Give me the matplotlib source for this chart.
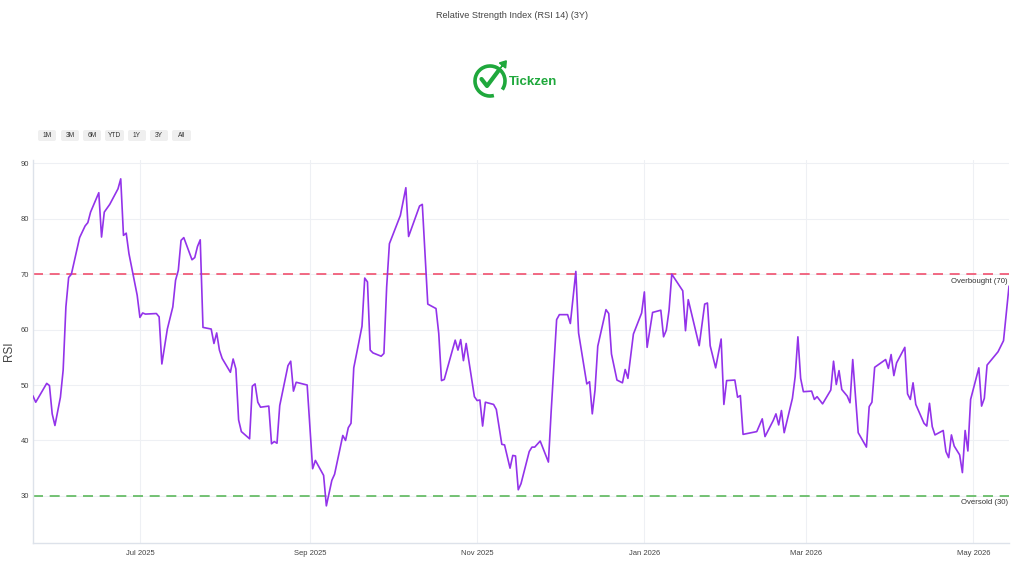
import matplotlib
matplotlib.use("Agg")
import matplotlib.pyplot as plt
import matplotlib.dates as mdates
from matplotlib.patches import Arc, FancyBboxPatch, FancyArrow
from matplotlib.transforms import offset_copy
import pandas as pd

plt.rcParams["font.family"] = ["Liberation Sans", "DejaVu Sans"]

TITLE = "Relative Strength Index (RSI 14) (3Y)"
range_buttons = ["1M", "3M", "6M", "YTD", "1Y", "3Y", "All"]
overbought = 70
oversold = 30

dates = [
    "2025-05-23", "2025-05-24", "2025-05-28", "2025-05-29", "2025-05-30", "2025-05-31",
    "2025-06-02", "2025-06-03", "2025-06-04", "2025-06-05", "2025-06-06", "2025-06-09",
    "2025-06-11", "2025-06-12", "2025-06-13", "2025-06-16", "2025-06-17", "2025-06-18",
    "2025-06-20", "2025-06-23", "2025-06-24", "2025-06-25", "2025-06-26", "2025-06-27",
    "2025-06-30", "2025-07-01", "2025-07-02", "2025-07-03", "2025-07-07", "2025-07-08",
    "2025-07-09", "2025-07-11", "2025-07-13", "2025-07-14", "2025-07-15", "2025-07-16",
    "2025-07-17", "2025-07-20", "2025-07-21", "2025-07-22", "2025-07-23", "2025-07-24",
    "2025-07-27", "2025-07-28", "2025-07-29", "2025-07-30", "2025-07-31", "2025-08-03",
    "2025-08-04", "2025-08-05", "2025-08-06", "2025-08-07", "2025-08-10", "2025-08-11",
    "2025-08-12", "2025-08-13", "2025-08-14", "2025-08-17", "2025-08-18", "2025-08-19",
    "2025-08-20", "2025-08-21", "2025-08-24", "2025-08-25", "2025-08-26", "2025-08-27",
    "2025-08-31", "2025-09-02", "2025-09-03", "2025-09-06", "2025-09-07", "2025-09-09",
    "2025-09-10", "2025-09-13", "2025-09-14", "2025-09-15", "2025-09-16", "2025-09-17",
    "2025-09-20", "2025-09-21", "2025-09-22", "2025-09-23", "2025-09-24", "2025-09-27",
    "2025-09-28", "2025-09-29", "2025-09-30", "2025-10-04", "2025-10-06", "2025-10-07",
    "2025-10-11", "2025-10-12", "2025-10-14", "2025-10-17", "2025-10-18", "2025-10-19",
    "2025-10-20", "2025-10-24", "2025-10-25", "2025-10-26", "2025-10-27", "2025-10-28",
    "2025-10-31", "2025-11-01", "2025-11-02", "2025-11-03", "2025-11-04", "2025-11-07",
    "2025-11-08", "2025-11-10", "2025-11-11", "2025-11-13", "2025-11-14", "2025-11-15",
    "2025-11-16", "2025-11-17", "2025-11-20", "2025-11-21", "2025-11-22", "2025-11-24",
    "2025-11-27", "2025-11-28", "2025-11-30", "2025-12-01", "2025-12-04", "2025-12-05",
    "2025-12-07", "2025-12-08", "2025-12-11", "2025-12-12", "2025-12-13", "2025-12-14",
    "2025-12-15", "2025-12-18", "2025-12-19", "2025-12-20", "2025-12-22", "2025-12-24",
    "2025-12-25", "2025-12-26", "2025-12-28", "2025-12-31", "2026-01-01", "2026-01-02",
    "2026-01-04", "2026-01-07", "2026-01-08", "2026-01-09", "2026-01-10", "2026-01-11",
    "2026-01-15", "2026-01-16", "2026-01-17", "2026-01-21", "2026-01-23", "2026-01-24",
    "2026-01-25", "2026-01-27", "2026-01-29", "2026-01-30", "2026-01-31", "2026-02-03",
    "2026-02-04", "2026-02-05", "2026-02-06", "2026-02-11", "2026-02-13", "2026-02-14",
    "2026-02-17", "2026-02-18", "2026-02-19", "2026-02-20", "2026-02-21", "2026-02-24",
    "2026-02-25", "2026-02-26", "2026-02-27", "2026-02-28", "2026-03-03", "2026-03-04",
    "2026-03-05", "2026-03-07", "2026-03-10", "2026-03-11", "2026-03-12", "2026-03-13",
    "2026-03-14", "2026-03-16", "2026-03-17", "2026-03-18", "2026-03-20", "2026-03-23",
    "2026-03-24", "2026-03-25", "2026-03-26", "2026-03-30", "2026-03-31", "2026-04-01",
    "2026-04-02", "2026-04-03", "2026-04-06", "2026-04-07", "2026-04-08", "2026-04-09",
    "2026-04-10", "2026-04-13", "2026-04-14", "2026-04-15", "2026-04-16", "2026-04-17",
    "2026-04-20", "2026-04-21", "2026-04-22", "2026-04-23", "2026-04-24", "2026-04-26",
    "2026-04-27", "2026-04-28", "2026-04-29", "2026-04-30", "2026-05-03", "2026-05-04",
    "2026-05-05", "2026-05-06", "2026-05-10", "2026-05-12", "2026-05-14",
]

rsi = [
    48.0, 46.9, 50.3, 49.9, 44.8, 42.7,
    47.8, 52.7, 64.1, 69.4, 70.0, 76.6,
    78.7, 79.3, 81.2, 84.7, 76.7, 81.2,
    82.6, 85.4, 87.2, 77.0, 77.4, 73.7,
    66.2, 62.2, 63.0, 62.8, 62.9, 62.3,
    53.8, 60.1, 64.1, 68.9, 70.7, 76.1,
    76.6, 72.6, 73.0, 75.0, 76.2, 60.4,
    60.1, 57.5, 59.4, 56.3, 54.8, 52.3,
    54.7, 52.9, 43.7, 41.6, 40.3, 49.8,
    50.2, 46.9, 46.0, 46.2, 39.4, 39.8,
    39.5, 46.3, 53.5, 54.3, 48.9, 50.5,
    50.0, 34.9, 36.4, 33.7, 28.2, 32.8,
    33.9, 40.9, 40.0, 42.3, 43.1, 53.1,
    60.6, 69.3, 68.6, 56.3, 55.8, 55.2,
    55.7, 67.7, 75.5, 80.6, 85.6, 76.8,
    82.3, 82.6, 64.6, 63.8, 59.3, 50.8,
    51.0, 58.1, 56.3, 58.2, 54.4, 57.5,
    47.9, 47.2, 47.3, 42.6, 46.9, 46.5,
    45.6, 39.3, 39.2, 35.0, 37.3, 37.2,
    31.1, 32.2, 38.0, 38.8, 38.8, 39.9,
    36.1, 45.2, 61.8, 62.7, 62.7, 61.1,
    70.5, 59.4, 50.2, 50.6, 44.8, 49.1,
    57.0, 63.6, 62.9, 55.6, 50.9, 50.4,
    52.8, 51.2, 59.2, 63.0, 66.8, 56.8,
    63.1, 63.5, 58.7, 59.9, 63.5, 70.0,
    67.0, 59.8, 65.4, 57.1, 64.6, 64.8,
    57.1, 53.1, 58.3, 46.5, 50.8, 50.9,
    47.8, 48.1, 41.1, 41.6, 43.9, 40.7,
    43.6, 44.8, 42.8, 45.4, 41.4, 47.6,
    51.5, 58.7, 51.2, 48.8, 48.9, 47.4,
    47.9, 46.6, 49.1, 54.3, 50.1, 52.6,
    49.2, 48.0, 46.8, 54.6, 41.4, 38.8,
    46.1, 46.9, 53.2, 54.6, 53.0, 55.5,
    51.7, 54.0, 56.8, 48.4, 47.4, 50.4,
    46.5, 43.1, 42.6, 46.7, 42.5, 41.0,
    41.8, 38.0, 36.9, 41.0, 39.0, 37.4,
    34.2, 41.8, 38.1, 47.4, 53.1, 46.2,
    47.6, 53.6, 56.0, 58.0, 67.8,
]

x = pd.to_datetime(dates)

fig = plt.figure(figsize=(10.24, 5.76), dpi=100)
fig.patch.set_facecolor("white")

# main plot area
ax = fig.add_axes([33 / 1024, 1 - 543 / 576, (1009 - 33) / 1024, (543 - 160) / 576])
ax.plot(x, rsi, color="#9333ea", linewidth=1.2, zorder=3)
ax.axhline(overbought, color="#f0506e", linewidth=1.2, dashes=(6, 4), zorder=2)
ax.axhline(oversold, color="#5cb85c", linewidth=1.2, dashes=(6, 4), zorder=2)

ax.set_xlim(x[0], x[-1])
ax.set_ylim(21.5, 90.6)
ax.set_yticks([30, 40, 50, 60, 70, 80, 90])
ax.xaxis.set_major_locator(mdates.MonthLocator(bymonth=[1, 3, 5, 7, 9, 11]))
ax.xaxis.set_major_formatter(mdates.DateFormatter("%b %Y"))

ax.grid(True, color="#eef0f4", linewidth=0.8, zorder=0)
ax.tick_params(length=0, labelsize=5.5, labelcolor="#444444")
ax.tick_params(axis="y", pad=3)
ax.tick_params(axis="x", pad=5)
for side in ("top", "right"):
    ax.spines[side].set_visible(False)
for side in ("left", "bottom"):
    ax.spines[side].set_color("#dde2ea")
    ax.spines[side].set_linewidth(1.0)

# labels under the threshold lines, nudged down a little
lbl_tr = offset_copy(ax.get_yaxis_transform(), fig=fig, x=0, y=-2.5, units="points")
ax.text(0.999, overbought, "Overbought (70)", transform=lbl_tr,
        ha="right", va="top", fontsize=5.6, color="#333333")
ax.text(0.999, oversold, "Oversold (30)", transform=lbl_tr,
        ha="right", va="top", fontsize=5.6, color="#333333")

# overlay in pixel coordinates for title, axis label, logo and range buttons
ov = fig.add_axes([0, 0, 1, 1], zorder=5)
ov.set_xlim(0, 1024)
ov.set_ylim(576, 0)
ov.axis("off")
ov.patch.set_alpha(0)

ov.text(512, 15, TITLE, ha="center", va="center", fontsize=6.6, color="#444444")
ov.text(9, 351, "RSI", ha="center", va="center", rotation=90, fontsize=8.5,
        color="#444444")

green = "#1fa83c"
ov.add_patch(Arc((490, 81), 30, 30, theta1=75, theta2=395, color=green, linewidth=2.6))
ov.plot([481.5, 487, 499], [79, 86, 70], color=green, linewidth=3.0,
        solid_capstyle="round", solid_joinstyle="round")
ov.add_patch(FancyArrow(498, 71, 4.5, -5.5, width=0.1, head_width=8, head_length=6,
                        color=green, length_includes_head=False))
ov.text(509, 82, "Tickzen", ha="left", va="center", fontsize=9.5, fontweight="bold",
        color=green)

btn_x = [38, 61, 83, 105, 128, 150, 172]
btn_w = [18, 18, 18, 19, 18, 18, 19]
for label, bx, bw in zip(range_buttons, btn_x, btn_w):
    ov.add_patch(FancyBboxPatch((bx, 130), bw, 11, boxstyle="round,pad=0,rounding_size=2",
                                facecolor="#efefef", edgecolor="none"))
    ov.text(bx + bw / 2, 135.5, label, ha="center", va="center", fontsize=4.8,
            color="#333333")

fig.savefig("out.png", dpi=100)
